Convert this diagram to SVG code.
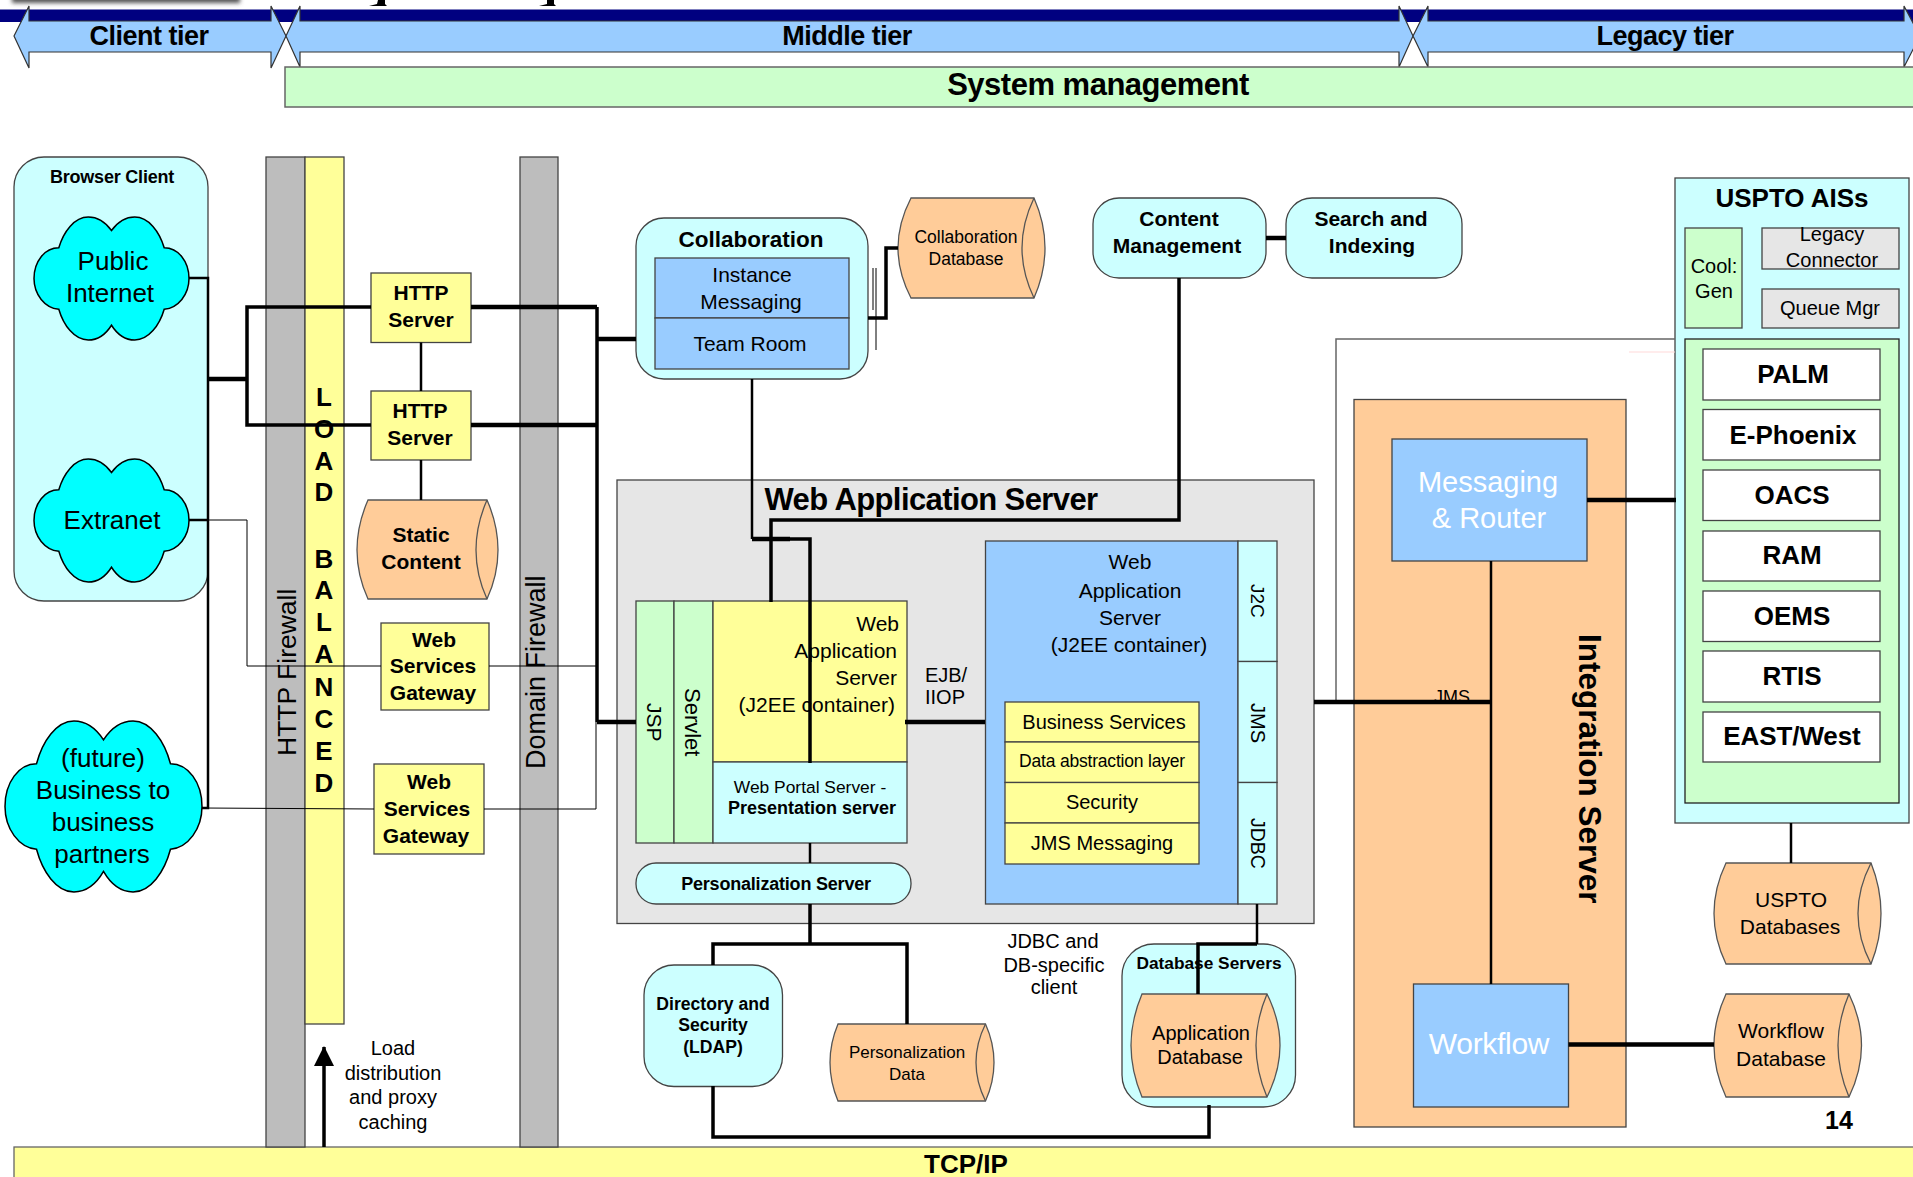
<svg xmlns="http://www.w3.org/2000/svg" width="1913" height="1177" viewBox="0 0 1913 1177">
<style>
text{font-family:"Liberation Sans",Arial,sans-serif;fill:#000;text-anchor:middle}
.b{font-weight:bold}
.e{text-anchor:end}
.s{text-anchor:start}
.f17{font-size:17px}.f18{font-size:18px}.f19{font-size:19px}.f20{font-size:20px}.f21{font-size:21px}.f22{font-size:22px}.f26{font-size:26px}.f30{font-size:30px}
.tier{font-size:27px;letter-spacing:-0.5px}
.w{fill:#fff}
.box{stroke:#444;stroke-width:1.3}
.blue{fill:#99ccff}.cyan{fill:#ccffff}.yel{fill:#ffff99}.org{fill:#ffcc99}.grn{fill:#ccffcc}.gry{fill:#e6e6e6}.fw{fill:#bdbdbd}.wht{fill:#fff}
.cloud{fill:#00ffff;stroke:#000;stroke-width:1.5}
.cyl{fill:#ffcc99;stroke:#555;stroke-width:1.3}
.cylin{fill:none;stroke:#555;stroke-width:1.3}
.k1{fill:none;stroke:#000;stroke-width:1}
.k2{fill:none;stroke:#000;stroke-width:2.5}
.k3{fill:none;stroke:#000;stroke-width:3.5}
.k4{fill:none;stroke:#000;stroke-width:4.5}
.arr{fill:#99ccff;stroke:#333;stroke-width:1.2}
</style>
<defs>
<filter id="blur" x="-10%" y="-200%" width="120%" height="500%"><feGaussianBlur stdDeviation="2"/></filter>
<marker id="head" markerUnits="userSpaceOnUse" markerWidth="20" markerHeight="20" refX="19" refY="10" orient="auto"><path d="M0 0L20 10L0 20Z" fill="#000"/></marker>
<path id="cloudshape" d="M50 11C46 4 41 0 35 0C26 0 19 12 16 25C7 25 0 36 0 50C0 63 7 74 16 75C19 88 26 100 35 100C41 100 46 96 50 88C54 96 59 100 65 100C74 100 81 88 84 75C93 74 100 63 100 50C100 36 93 25 84 25C81 12 74 0 65 0C59 0 54 4 50 11Z" vector-effect="non-scaling-stroke"/>
</defs>
<rect width="1913" height="1177" fill="#fff"/>
<g id="header-remnants">
<rect x="12" y="-6" width="228" height="9" fill="#555" filter="url(#blur)"/>
<path d="M378 0H385V4L387 6H369L377 4ZM547 0H554V4L556 6H539L547 4Z" fill="#000"/>
<rect x="0" y="9.5" width="1913" height="12.5" fill="#000080"/>
</g>
<g id="tier-client"><path class="arr" d="M14 36L29 6V21H271V6L286 36L271 68V52H29V68Z"/><text class="b tier" x="149" y="45">Client tier</text></g>
<g id="tier-middle"><path class="arr" d="M286 36L300 6V21H1399V6L1413 36L1399 67V52H300V67Z"/><text class="b tier" x="847" y="45">Middle tier</text></g>
<g id="tier-legacy"><path class="arr" d="M1413 36L1428 6V21H1904V6L1920 36L1904 67V52H1428V67Z"/><text class="b tier" x="1665" y="45">Legacy tier</text></g>
<g id="system-management"><rect class="grn" x="285" y="67" width="1640" height="40" stroke="#666" stroke-width="1.5"/><text class="b" font-size="31" x="1098" y="95" letter-spacing="-0.5">System management</text></g>
<g id="tcpip"><rect class="yel" x="14" y="1147" width="1910" height="40" stroke="#666" stroke-width="1.3"/><text class="b f26" x="966" y="1173">TCP/IP</text></g>
<g id="browser-client"><rect class="cyan box" x="14" y="157" width="194" height="444" rx="30" ry="30"/><text class="b f18" x="112" y="183" letter-spacing="-0.2">Browser Client</text></g>
<g id="public-internet"><use href="#cloudshape" class="cloud" transform="translate(34 217) scale(1.55 1.23)"/><text class="f26" x="113" y="270">Public</text><text class="f26" x="110" y="302">Internet</text></g>
<g id="extranet"><use href="#cloudshape" class="cloud" transform="translate(34 459) scale(1.55 1.23)"/><text class="f26" x="112" y="529">Extranet</text></g>
<g id="future-partners"><use href="#cloudshape" class="cloud" transform="translate(5 721) scale(1.97 1.71)"/><text class="f26" x="103" y="767">(future)</text><text class="f26" x="103" y="799">Business to</text><text class="f26" x="103" y="831">business</text><text class="f26" x="102" y="863">partners</text></g>
<g id="http-firewall"><rect class="fw box" x="266" y="157" width="39" height="990"/><text class="s" font-size="26.5" transform="translate(296 756) rotate(-90)">HTTP Firewall</text></g>
<g id="load-balanced"><rect class="yel box" x="305" y="157" width="39" height="867"/>
<g class="b f26"><text x="324" y="406">L</text><text x="324" y="438">O</text><text x="324" y="470">A</text><text x="324" y="501">D</text><text x="324" y="568">B</text><text x="324" y="599">A</text><text x="324" y="631">L</text><text x="324" y="663">A</text><text x="324" y="696">N</text><text x="324" y="728">C</text><text x="324" y="760">E</text><text x="324" y="792">D</text></g></g>
<g id="domain-firewall"><rect class="fw box" x="520" y="157" width="38" height="990"/><text class="s" font-size="27" transform="translate(545 769) rotate(-90)">Domain Firewall</text></g>
<g id="http-server-1"><rect class="yel box" x="371" y="273" width="100" height="69.500"/><text class="b f21" x="421" y="300">HTTP</text><text class="b f21" x="421" y="327">Server</text></g>
<g id="http-server-2"><rect class="yel box" x="371" y="391" width="100" height="69"/><text class="b f21" x="420" y="418">HTTP</text><text class="b f21" x="420" y="445">Server</text></g>
<g id="static-content"><path class="cyl" d="M368 500H487Q498 525 498 550Q498 575 487 599H368Q357 575 357 550Q357 525 368 500Z"/><path class="cylin" d="M487 500Q476 525 476 550Q476 575 487 599"/><text class="b f21" x="421" y="541.500">Static</text><text class="b f21" x="421" y="569">Content</text></g>
<g id="web-services-gateway-1"><rect class="yel box" x="381" y="623" width="108" height="87"/><text class="b f21" x="434" y="647">Web</text><text class="b f21" x="433" y="673">Services</text><text class="b f21" x="433" y="700">Gateway</text></g>
<g id="web-services-gateway-2"><rect class="yel box" x="374" y="764" width="110" height="90"/><text class="b f21" x="429" y="789">Web</text><text class="b f21" x="427" y="816">Services</text><text class="b f21" x="426" y="843">Gateway</text></g>
<g id="collaboration"><rect class="cyan box" x="636" y="218" width="232" height="161" rx="28" ry="28"/><text class="b" font-size="22.5" x="751" y="247">Collaboration</text>
<rect class="blue box" x="655" y="258" width="194" height="60"/><rect class="blue box" x="655" y="318" width="194" height="51"/>
<text class="f21" x="752" y="282">Instance</text><text class="f21" x="751" y="309">Messaging</text><text class="f21" x="750" y="351">Team Room</text></g>
<g id="collaboration-database"><path class="cyl" d="M911 198H1034Q1045 223 1045 248Q1045 273 1034 298H911Q898 273 898 248Q898 223 911 198Z"/><path class="cylin" d="M1034 198Q1022 223 1022 248Q1022 273 1034 298"/><text font-size="17.500" x="966" y="243">Collaboration</text><text font-size="17.500" x="966" y="265">Database</text></g>
<g id="content-management"><rect class="cyan box" x="1093" y="198" width="173" height="80" rx="26" ry="26"/><text class="b f21" x="1179" y="226">Content</text><text class="b f21" x="1177" y="253">Management</text></g>
<g id="search-indexing"><rect class="cyan box" x="1286" y="198" width="176" height="80" rx="26" ry="26"/><text class="b f21" x="1371" y="226">Search and</text><text class="b f21" x="1372" y="253">Indexing</text></g>
<g id="web-application-server"><rect class="gry box" x="617" y="480" width="697" height="443.500"/><text class="b" font-size="31" x="931" y="510" letter-spacing="-0.6">Web Application Server</text></g>
<g id="presentation-stack">
<rect class="grn box" x="636" y="601" width="38" height="242"/><rect class="grn box" x="674" y="601" width="39" height="242"/>
<rect class="yel box" x="713" y="601" width="194" height="161"/><rect class="cyan box" x="713" y="762" width="194" height="81"/>
<text class="s f21" transform="translate(647 703) rotate(90)">JSP</text><text class="s f22" transform="translate(685 688) rotate(90)">Servlet</text>
<text class="e f21" x="899" y="631">Web</text><text class="e f21" x="897" y="658">Application</text><text class="e f21" x="897" y="685">Server</text><text class="e f21" x="895" y="712">(J2EE container)</text>
<text font-size="17.400" x="810" y="793">Web Portal Server -</text><text class="b f18" x="812" y="814">Presentation server</text></g>
<g id="personalization-server"><rect class="cyan box" x="636" y="863" width="275" height="41" rx="20" ry="20"/><text class="b f18" x="776" y="890" letter-spacing="-0.2">Personalization Server</text></g>
<g id="ejb-label"><text class="f20" x="946" y="682">EJB/</text><text class="f20" x="945" y="704">IIOP</text></g>
<g id="web-app-container"><rect class="blue box" x="985.500" y="541" width="252.500" height="363"/>
<text class="f21" x="1130" y="569">Web</text><text class="f21" x="1130" y="598">Application</text><text class="f21" x="1130" y="625">Server</text><text class="f21" x="1129" y="652">(J2EE container)</text></g>
<g id="connectors-column"><rect class="cyan box" x="1238" y="541" width="39" height="120.500"/><rect class="cyan box" x="1238" y="661.500" width="39" height="121"/><rect class="cyan box" x="1238" y="782.500" width="39" height="121.500"/>
<text class="s" font-size="19" transform="translate(1251 584) rotate(90)">J2C</text><text class="s f20" transform="translate(1251 703) rotate(90)">JMS</text><text class="s" font-size="19.500" transform="translate(1251 818) rotate(90)">JDBC</text></g>
<g id="service-stack"><rect class="yel box" x="1005" y="702" width="194" height="40"/><rect class="yel box" x="1005" y="742" width="194" height="40.500"/><rect class="yel box" x="1005" y="782.500" width="194" height="40.500"/><rect class="yel box" x="1005" y="823" width="194" height="41"/>
<text class="f20" x="1104" y="729">Business Services</text><text font-size="17.500" x="1102" y="767" letter-spacing="-0.2">Data abstraction layer</text><text class="f20" x="1102" y="809">Security</text><text class="f20" x="1102" y="850">JMS Messaging</text></g>
<g id="jdbc-label"><text class="f20" x="1053" y="947.500">JDBC and</text><text class="f20" x="1054" y="971.500">DB-specific</text><text class="f20" x="1054" y="994">client</text></g>
<g id="directory-security"><rect class="cyan box" x="644" y="965" width="138.500" height="121.500" rx="30" ry="30"/><text class="b" font-size="17.600" x="713" y="1009.500">Directory and</text><text class="b" font-size="17.600" x="713" y="1031">Security</text><text class="b" font-size="17.600" x="713" y="1053">(LDAP)</text></g>
<g id="personalization-data"><path class="cyl" d="M838 1024H985.500Q994 1043 994 1062.500Q994 1082 985.500 1101H838Q830 1082 830 1062.500Q830 1043 838 1024Z"/><path class="cylin" d="M985.500 1024Q976 1043 976 1062.500Q976 1082 985.500 1101"/><text class="f17" x="907" y="1058">Personalization</text><text class="f17" x="907" y="1080">Data</text></g>
<g id="database-servers"><rect class="cyan box" x="1122" y="944" width="173.500" height="163" rx="32" ry="32"/><text class="b" font-size="17.300" x="1209" y="969">Database Servers</text></g>
<g id="application-database"><path class="cyl" d="M1142 994H1267Q1280 1020 1280 1045.500Q1280 1071 1267 1097H1142Q1131 1071 1131 1045.500Q1131 1020 1142 994Z"/><path class="cylin" d="M1267 994Q1256 1020 1256 1045.500Q1256 1071 1267 1097"/><text class="f20" x="1201" y="1040">Application</text><text class="f20" x="1200" y="1064">Database</text></g>
<g id="load-label"><text class="f20" x="393" y="1055">Load</text><text class="f20" x="393" y="1080">distribution</text><text class="f20" x="393" y="1104">and proxy</text><text class="f20" x="393" y="1129">caching</text></g>
<g id="integration-server"><rect class="org box" x="1354" y="399.500" width="272" height="727.500"/><text class="s b" font-size="31.500" transform="translate(1579 634) rotate(90)">Integration Server</text></g>
<g id="messaging-router"><rect class="blue box" x="1392" y="439" width="195" height="122"/><text class="w" font-size="29" x="1488" y="492">Messaging</text><text class="w" font-size="29" x="1489" y="528">&amp; Router</text></g>
<g id="workflow"><rect class="blue box" x="1413.500" y="984" width="155" height="123"/><text class="w f30" x="1489" y="1054" letter-spacing="-0.3">Workflow</text></g>
<g id="uspto-ais"><rect class="cyan box" x="1675" y="178" width="234" height="645"/><text class="b" font-size="26" x="1792" y="207">USPTO AISs</text>
<rect class="grn box" x="1685" y="228" width="57" height="100"/><text class="f20" x="1714" y="272.500">Cool:</text><text class="f20" x="1714" y="298">Gen</text>
<rect class="gry box" x="1762" y="228" width="137" height="41"/><text class="f20" x="1832" y="241">Legacy</text><text class="f20" x="1832" y="267">Connector</text>
<rect class="gry box" x="1762" y="289" width="137" height="39"/><text class="f20" x="1830" y="315">Queue Mgr</text>
<rect class="grn" x="1685" y="339" width="214" height="464" stroke="#222" stroke-width="1.3"/></g>
<g id="sys-palm"><rect class="wht box" x="1703" y="349" width="177" height="51"/><text class="b f26" x="1793" y="383">PALM</text></g>
<g id="sys-ephoenix"><rect class="wht box" x="1703" y="409.500" width="177" height="50.500"/><text class="b f26" x="1793" y="444">E-Phoenix</text></g>
<g id="sys-oacs"><rect class="wht box" x="1703" y="470" width="177" height="50.500"/><text class="b f26" x="1792" y="504">OACS</text></g>
<g id="sys-ram"><rect class="wht box" x="1703" y="531" width="177" height="50"/><text class="b f26" x="1792" y="564">RAM</text></g>
<g id="sys-oems"><rect class="wht box" x="1703" y="591" width="177" height="50.500"/><text class="b f26" x="1792" y="625">OEMS</text></g>
<g id="sys-rtis"><rect class="wht box" x="1703" y="651" width="177" height="51"/><text class="b f26" x="1792" y="685">RTIS</text></g>
<g id="sys-east-west"><rect class="wht box" x="1703" y="712" width="177" height="50"/><text class="b f26" x="1792" y="745" letter-spacing="-0.1">EAST/West</text></g>
<g id="uspto-databases"><path class="cyl" d="M1726 863H1871Q1881 888 1881 913.500Q1881 939 1871 964H1726Q1714 939 1714 913.500Q1714 888 1726 863Z"/><path class="cylin" d="M1871 863Q1858 888 1858 913.500Q1858 939 1871 964"/><text class="f21" x="1791" y="907">USPTO</text><text class="f21" x="1790" y="934">Databases</text></g>
<g id="workflow-database"><path class="cyl" d="M1726 994H1849Q1861.500 1020 1861.500 1045.500Q1861.500 1071 1849 1097H1726Q1714 1071 1714 1045.500Q1714 1020 1726 994Z"/><path class="cylin" d="M1849 994Q1838 1020 1838 1045.500Q1838 1071 1849 1097"/><text class="f21" x="1781" y="1038">Workflow</text><text class="f21" x="1781" y="1065.500">Database</text></g>
<g id="page-number"><text class="b" font-size="25" x="1839" y="1129">14</text></g>
<g id="connectors">
<path d="M1675 339H1336V702" fill="none" stroke="#666" stroke-width="1.500"/>
<path d="M1629 352H1675" fill="none" stroke="#ffd9d9" stroke-width="1"/>
<path class="k2" d="M189 278H208V808H202"/>
<path class="k4" d="M208 379H247"/>
<path class="k3" d="M371 307H247V425H371"/>
<path class="k2" d="M189 520H208"/>
<path class="k1" d="M208 520H247V666H381M489 666H597"/>
<path class="k1" d="M202 808L374 809M484 809H596V722"/>
<path class="k4" d="M471 307H597M471 425H597"/>
<path class="k3" d="M597 307V722"/>
<path class="k4" d="M597 339H636M597 722H636"/>
<path class="k2" d="M421 342.500V391M421 460V500"/>
<path class="k2" d="M752 379V539"/>
<path class="k4" d="M752 539H790"/>
<path class="k3" d="M790 539H810V763"/>
<path class="k3" d="M868 318H886V248H898"/>
<path class="k1" d="M873 268V310M876 268V350"/>
<path class="k4" d="M1266 238H1286"/>
<path class="k3" d="M1179 278V520H771V602"/>
<path class="k4" d="M905 722H985"/>
<path class="k2" d="M810 843V863"/>
<path class="k3" d="M810 904V944M713 965V944H907V1024"/>
<path class="k3" d="M713 1086V1137H1209V1105"/>
<path class="k2" d="M1257 904V944"/>
<path class="k3" d="M1257 944H1198V994"/>
<path class="k4" d="M1587 500H1676"/>
<path class="k4" d="M1314 702H1491"/>
<path class="k2" d="M1491 561V984"/>
<path class="k4" d="M1568.500 1044.500H1714"/>
<path class="k2" d="M1791 823V863"/>
<path class="k3" d="M324 1147V1047" marker-end="url(#head)"/>
<text class="f18" x="1452" y="703">JMS</text>
</g>
</svg>
